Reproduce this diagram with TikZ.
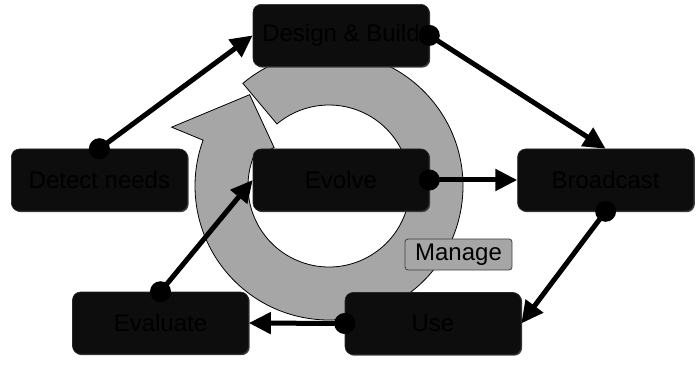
\documentclass[tikz,border=0pt]{standalone}
\usepackage{fontspec}
\setmainfont{Liberation Sans}
\usepackage{xcolor}
\usepackage{tikz}
\usetikzlibrary{positioning,arrows.meta,shadows,backgrounds}
\definecolor{boxfill}{HTML}{0D0D0D}
\definecolor{ringgray}{HTML}{A6A6A6}

\begin{document}
\begin{tikzpicture}[x=1pt, y=1pt,
    stage/.style={rectangle, rounded corners=8pt, fill=boxfill, draw=black!85, line width=0.6pt,
        minimum width=176pt, minimum height=62pt, text=black, font=\fontsize{24}{28}\selectfont,
        drop shadow={shadow xshift=1.2pt, shadow yshift=-1.2pt, fill=black!75, opacity=1}},
    flow/.style={line width=5pt, -{Triangle[length=22pt,width=21pt]}},
    knob/.style={fill=black}]
    \useasboundingbox (0,0) rectangle (700,372);
    \coordinate (c) at (329,186);

    \node[stage] (evolve) at (341,192) {Evolve};
    \node[stage, above=82pt of evolve] (design) {Design \& Build};
    \node[stage, left=65pt of evolve] (detect) {Detect needs};
    \node[stage, right=88pt of evolve] (broadcast) {Broadcast};
    \node[stage] (evaluate) at (160.5,49) {Evaluate};
    \node[stage] (use) at (433,48.5) {Use};

    % circular arrow behind the boxes
    \begin{scope}[on background layer]
        \filldraw[fill=ringgray, draw=black, line width=0.8pt]
            ([shift={(130:134)}]c) arc[start angle=130, end angle=-200, radius=134]
            -- ([shift={(159.5:168)}]c) -- ([shift={(131:121)}]c)
            -- ([shift={(145:67)}]c) -- ([shift={(160:81)}]c)
            arc[start angle=160, end angle=490, radius=81] -- cycle;
    \end{scope}

    \foreach \a/\b in {detect.north/design.west, design.east/broadcast.north,
        broadcast.south/use.east, use.west/evaluate.east,
        evaluate.north/evolve.west, evolve.east/broadcast.west} {
        \draw[flow] (\a) -- (\b);
        \fill[knob] (\a) circle (10.5pt);
    }

    \node[draw=black!75, fill=ringgray, rounded corners=3pt, line width=0.8pt, minimum width=107pt,
        minimum height=31pt, inner sep=0pt, font=\fontsize{24}{28}\selectfont] (manage) at (458.5,117.5) {Manage};
\end{tikzpicture}
\end{document}
